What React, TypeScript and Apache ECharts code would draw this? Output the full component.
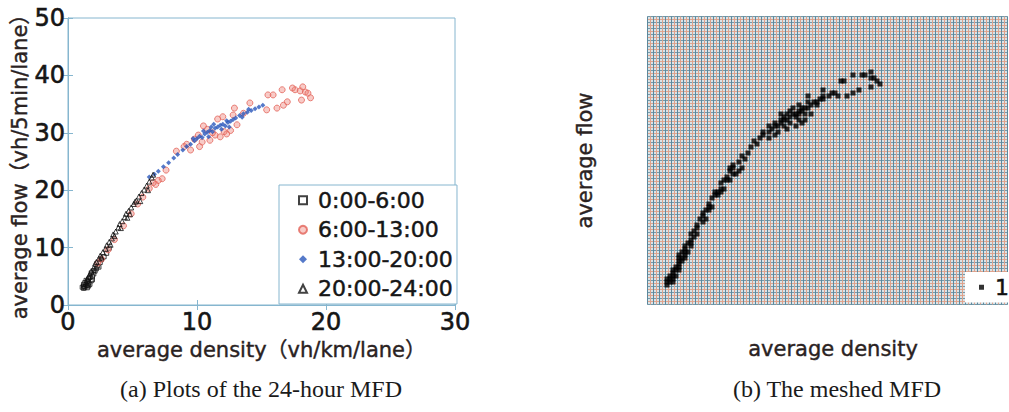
import React, { useEffect, useRef } from "react";
import * as echarts from "echarts";

// 0:00-6:00 (hollow squares)
const night: number[][] = [
  [1.1, 3.1], [1.2, 3.3], [1.3, 3.2], [1.2, 3.6], [1.4, 3.5], [1.5, 3.4], [1.3, 3.9],
  [1.5, 4.1], [1.6, 3.8], [1.7, 3.6], [1.4, 4.3], [1.6, 4.5], [1.8, 4.2], [1.7, 4.8],
  [1.9, 5.0], [2.0, 5.4], [1.8, 5.6], [2.1, 5.9], [2.2, 6.3], [2.0, 6.0], [2.3, 6.8],
  [2.5, 7.4], [2.6, 7.9], [2.8, 8.4], [3.0, 9.0], [3.2, 9.9], [1.3, 3.0], [1.6, 3.3],
  [1.2, 2.9], [1.5, 3.0], [1.9, 4.4], [2.4, 6.6],
];
// 6:00-13:00 (red circles)
const morning: number[][] = [
  [2.3, 7.3], [2.6, 8.0], [3.1, 9.6], [3.6, 11.4], [4.3, 13.8], [4.9, 15.9], [5.4, 17.6],
  [5.8, 18.8], [6.3, 20.3], [6.8, 21.0], [7.0, 21.7], [6.6, 21.3], [7.6, 23.5],
  [8.4, 26.8], [9.2, 28.0], [9.5, 27.0], [10.1, 29.6], [10.2, 27.6], [10.8, 30.6],
  [11.0, 28.7], [11.8, 29.3], [12.6, 30.4], [13.1, 31.4], [11.6, 32.4], [12.0, 32.8],
  [12.8, 33.1], [12.9, 34.3], [13.6, 33.4], [12.3, 29.8], [11.4, 29.6], [10.5, 31.2],
  [14.1, 35.2], [15.4, 34.0], [15.5, 36.6], [15.9, 36.6], [16.2, 34.3], [16.6, 37.5],
  [16.7, 34.8], [17.0, 35.4], [17.4, 37.8], [17.6, 37.5], [18.0, 37.3], [18.1, 35.7],
  [18.4, 37.1], [18.6, 36.9], [18.8, 36.1], [18.2, 38.0], [9.0, 27.6], [7.3, 22.0],
  [10.4, 28.4], [11.2, 30.0], [12.1, 30.2], [9.8, 28.9],
];
// 13:00-20:00 (blue)
const afternoon: number[][] = [
  [6.3, 22.3], [6.7, 22.8], [7.0, 23.3], [7.4, 24.1], [7.8, 24.8], [8.2, 25.6], [8.5, 26.2],
  [8.9, 27.0], [9.2, 27.6], [9.5, 28.0], [9.8, 28.6], [10.0, 29.0], [10.2, 29.4], [10.4, 29.2],
  [10.6, 29.8], [10.8, 30.1], [11.0, 30.4], [11.2, 30.2], [11.4, 30.8], [11.6, 31.0],
  [11.8, 31.3], [12.0, 31.5], [12.2, 31.2], [12.4, 31.8], [12.6, 32.0], [12.8, 32.3],
  [13.0, 32.6], [13.3, 33.0], [13.6, 33.3], [13.9, 33.6], [14.2, 33.9], [14.5, 34.2],
  [14.8, 34.5], [15.1, 34.8], [10.5, 30.3], [11.3, 31.5], [11.9, 30.6], [12.5, 31.0],
  [9.7, 29.0], [10.9, 29.3], [11.1, 31.0], [12.3, 32.1], [13.5, 32.7], [14.0, 34.1],
];
// 20:00-24:00 (hollow triangles)
const evening: number[][] = [
  [1.4, 4.0], [1.5, 4.6], [1.6, 5.0], [1.7, 5.4], [1.8, 5.9], [2.0, 6.5], [2.1, 7.2],
  [2.2, 7.5], [2.4, 8.1], [2.5, 8.6], [2.7, 9.2], [2.9, 9.8], [3.0, 10.4], [3.2, 11.0],
  [3.4, 11.6], [3.5, 12.3], [3.7, 12.8], [3.9, 13.5], [4.0, 14.1], [4.2, 14.6], [4.4, 15.3],
  [4.5, 15.9], [4.7, 16.4], [4.9, 17.0], [5.1, 17.6], [5.3, 18.2], [5.5, 18.9], [5.7, 19.5],
  [5.9, 20.1], [6.1, 20.8], [6.3, 21.5], [6.5, 22.2], [6.6, 22.7], [3.3, 10.5], [4.1, 13.4],
  [4.8, 15.8], [5.6, 18.1], [6.2, 20.0], [2.6, 8.3], [3.6, 12.0], [4.6, 15.2], [5.2, 18.0],
];

const seriesNames = ["0:00-6:00", "6:00-13:00", "13:00-20:00", "20:00-24:00"];
const meshSeriesName = "1";
const xTicks = [0, 10, 20, 30];
const yTicks = [0, 10, 20, 30, 40, 50];

// mesh of the (b) panel
const X_CELL = 0.25;
const Y_CELL = 0.5;
const MESH_X_MIN = -0.5;
const MESH_X_MAX = 29.5;
const MESH_Y_MIN = -0.5;
const MESH_Y_MAX = 47.5;

function meshOf(sets: number[][][]): number[][] {
  const seen = new Set<string>();
  const out: number[][] = [];
  sets.forEach((s) =>
    s.forEach(([x, y]) => {
      const cx = (Math.floor(x / X_CELL) + 0.5) * X_CELL;
      const cy = (Math.floor(y / Y_CELL) + 0.5) * Y_CELL;
      const k = cx + "_" + cy;
      if (!seen.has(k)) {
        seen.add(k);
        out.push([cx, cy]);
      }
    })
  );
  return out;
}

const FONT = "'DejaVu Sans', 'Noto Sans CJK JP', sans-serif";
const SERIF = "'Liberation Serif', 'Times New Roman', serif";
const BLUE_FRAME = "#86b6cf";
const INK = "#161616";

export default function App() {
  const ref = useRef<HTMLDivElement>(null);
  useEffect(() => {
    if (!ref.current) return;
    const chart = echarts.init(ref.current, null, { renderer: "svg" });
    const labelStyle = {
      fontFamily: FONT, fontSize: 24, color: INK,
      textBorderColor: INK, textBorderWidth: 0.6,
    };
    const nameStyle = {
      fontFamily: FONT, fontSize: 21, color: "#2a2222",
      textBorderColor: "#2a2222", textBorderWidth: 0.4,
    };
    const option: any = {
      animation: false,
      backgroundColor: "#ffffff",
      grid: [
        { left: 68, top: 18, width: 387, height: 287, show: true, borderColor: BLUE_FRAME, borderWidth: 1, backgroundColor: "#fff" },
        { left: 647.5, top: 16.5, width: 360, height: 288, show: true, borderColor: "#ead8d0", borderWidth: 1, backgroundColor: "#dbe3e7" },
      ],
      xAxis: [
        {
          gridIndex: 0, type: "value", min: 0, max: 30, interval: 10,
          name: "average density（vh/km/lane）", nameLocation: "middle", nameGap: 34,
          nameTextStyle: nameStyle,
          axisLine: { show: true, lineStyle: { color: BLUE_FRAME } },
          axisTick: { show: true, inside: true, length: 5, lineStyle: { color: BLUE_FRAME } },
          axisLabel: { ...labelStyle, margin: 5, formatter: (v: number) => (xTicks.includes(v) ? String(v) : "") },
          splitLine: { show: false },
        },
        {
          gridIndex: 0, type: "value", min: 0, max: 30, interval: 10, position: "top",
          axisLine: { show: true, lineStyle: { color: BLUE_FRAME } },
          axisTick: { show: true, inside: true, length: 5, lineStyle: { color: BLUE_FRAME } },
          axisLabel: { show: false }, splitLine: { show: false },
        },
        {
          gridIndex: 1, type: "value", min: MESH_X_MIN, max: MESH_X_MAX, interval: X_CELL,
          name: "average density", nameLocation: "start", nameGap: -185.5,
          nameTextStyle: { ...nameStyle, align: "center", verticalAlign: "top", padding: [37, 0, 0, 0] },
          axisLine: { show: false }, axisTick: { show: false }, axisLabel: { show: false },
          splitLine: { show: true, lineStyle: { color: ["#5b889c", "#dca28c"], width: 1 } },
        },
      ],
      yAxis: [
        {
          gridIndex: 0, type: "value", min: 0, max: 50, interval: 10,
          name: "average flow（vh/5min/lane）", nameLocation: "middle", nameGap: 36,
          nameTextStyle: nameStyle,
          axisLine: { show: true, lineStyle: { color: BLUE_FRAME } },
          axisTick: { show: true, inside: true, length: 5, lineStyle: { color: BLUE_FRAME } },
          axisLabel: { ...labelStyle, margin: 3, formatter: (v: number) => (yTicks.includes(v) ? String(v) : "") },
          splitLine: { show: false },
        },
        {
          gridIndex: 0, type: "value", min: 0, max: 50, interval: 10, position: "right",
          axisLine: { show: true, lineStyle: { color: BLUE_FRAME } },
          axisTick: { show: true, inside: true, length: 5, lineStyle: { color: BLUE_FRAME } },
          axisLabel: { show: false }, splitLine: { show: false },
        },
        {
          gridIndex: 1, type: "value", min: MESH_Y_MIN, max: MESH_Y_MAX, interval: Y_CELL,
          name: "average flow", nameLocation: "middle", nameGap: 52,
          nameTextStyle: nameStyle,
          axisLine: { show: false }, axisTick: { show: false }, axisLabel: { show: false },
          splitLine: { show: true, lineStyle: { color: ["#7399aa", "#e2a58e"], width: 1 } },
        },
      ],
      legend: [
        {
          data: seriesNames, orient: "vertical", left: 279, top: 185,
          padding: [4, 4, 4, 19], itemGap: 7, itemWidth: 8, itemHeight: 8,
          backgroundColor: "#fff", borderColor: BLUE_FRAME, borderWidth: 1,
          selectedMode: false,
          textStyle: {
            fontFamily: FONT, fontSize: 22, lineHeight: 22, color: INK,
            textBorderColor: INK, textBorderWidth: 0.5, padding: [0, 0, 0, 6],
          },
        },
        {
          data: [meshSeriesName], left: 965, top: 272, padding: [4, 6, 4, 14],
          itemWidth: 5, itemHeight: 5, backgroundColor: "#fff", selectedMode: false,
          textStyle: {
            fontFamily: FONT, fontSize: 22, lineHeight: 22, color: "#111",
            textBorderColor: "#111", textBorderWidth: 0.5, padding: [0, 0, 0, 6],
          },
        },
      ],
      series: [
        {
          name: seriesNames[0], type: "scatter", xAxisIndex: 0, yAxisIndex: 0, data: night,
          symbol: "rect", symbolSize: 4,
          itemStyle: { color: "rgba(255,255,255,0)", borderColor: "#111", borderWidth: 1 },
        },
        {
          name: seriesNames[1], type: "scatter", xAxisIndex: 0, yAxisIndex: 0, data: morning,
          symbol: "circle", symbolSize: 6,
          itemStyle: { color: "rgba(236,120,110,0.45)", borderColor: "#e46a60", borderWidth: 1, opacity: 0.85 },
        },
        {
          name: seriesNames[2], type: "scatter", xAxisIndex: 0, yAxisIndex: 0, data: afternoon,
          symbol: "diamond", symbolSize: 5,
          itemStyle: { color: "#2a58bc" },
        },
        {
          name: seriesNames[3], type: "scatter", xAxisIndex: 0, yAxisIndex: 0, data: evening,
          symbol: "triangle", symbolSize: 5,
          itemStyle: { color: "rgba(255,255,255,0)", borderColor: "#111", borderWidth: 1 },
        },
        {
          name: meshSeriesName, type: "scatter", xAxisIndex: 2, yAxisIndex: 2,
          data: meshOf([night, morning, afternoon, evening]),
          symbol: "rect", symbolSize: 5,
          itemStyle: { color: "#000" },
        },
      ],
      graphic: [
        {
          type: "text", x: 261, y: 389,
          style: { text: "(a) Plots of the 24-hour MFD", fontFamily: SERIF, fontSize: 24, fill: "#1a1a1a", align: "center", verticalAlign: "middle" },
        },
        {
          type: "text", x: 837, y: 389,
          style: { text: "(b) The meshed MFD", fontFamily: SERIF, fontSize: 24, fill: "#1a1a1a", align: "center", verticalAlign: "middle" },
        },
      ],
    };
    chart.setOption(option);
    return () => chart.dispose();
  }, []);
  return <div ref={ref} style={{ position: "absolute", left: 0, top: 0, width: 1009, height: 412 }} />;
}
